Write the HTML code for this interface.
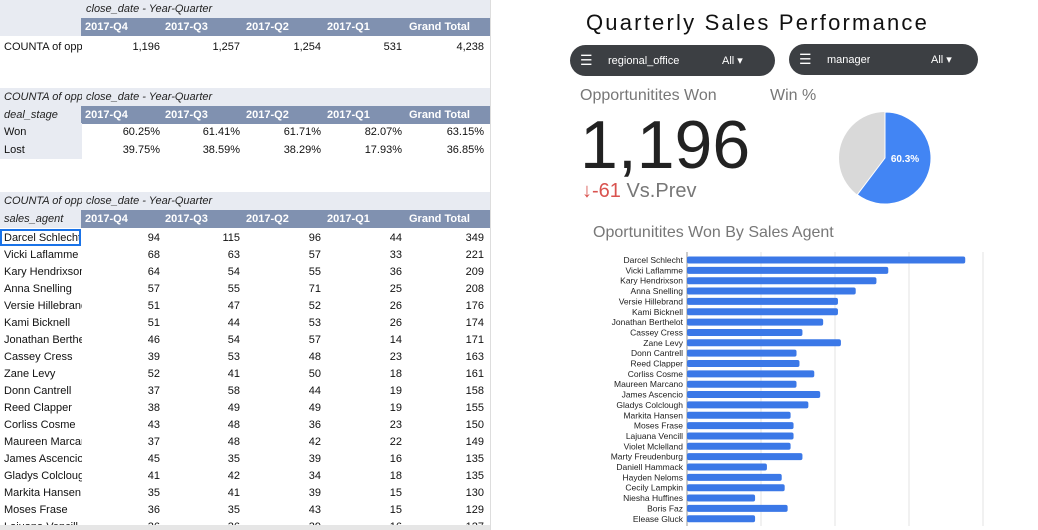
<!DOCTYPE html>
<html><head><meta charset="utf-8">
<style>
body{margin:0;width:1038px;height:530px;overflow:hidden;background:#fff;font-family:"Liberation Sans",Arial,sans-serif;position:relative}
.a{position:absolute;white-space:nowrap;overflow:hidden}
.lb{background:#e8ebf2}
.hd{background:#8091b0;color:#fff;font-weight:bold;font-size:11px}
.c{font-size:11px;color:#111}
.it{font-style:italic;font-size:11px;color:#222}
.pill{position:absolute;background:#3c3f43;border-radius:16px;color:#fff;font-size:11px}
</style></head><body>
<div id="left" class="a" style="left:0;top:0;width:490px;height:530px;overflow:hidden"></div>
<div class="a" style="left:490px;top:0;width:1px;height:530px;background:#ddd"></div>

<div class="a" style="left:586px;top:10px;font-size:22px;color:#111;letter-spacing:2.2px">Quarterly Sales Performance</div>
<div class="pill" style="left:570px;top:45px;width:205px;height:31px">
 <span class="a" style="left:10px;top:8px;font-size:14px;line-height:14px">☰</span>
 <span class="a" style="left:38px;top:10px">regional_office</span>
 <span class="a" style="left:152px;top:9px">All ▾</span>
</div>
<div class="pill" style="left:789px;top:44px;width:189px;height:31px">
 <span class="a" style="left:10px;top:8px;font-size:14px;line-height:14px">☰</span>
 <span class="a" style="left:38px;top:10px">manager</span>
 <span class="a" style="left:142px;top:9px">All ▾</span>
</div>
<div class="a" style="left:580px;top:87px;font-size:16px;color:#777">Opportunitites Won</div>
<div class="a" style="left:770px;top:87px;font-size:16px;color:#777">Win %</div>
<div class="a" style="left:580px;top:106px;font-size:68px;color:#222;line-height:78px">1,196</div>
<div class="a" style="left:582px;top:180px;font-size:20px;color:#d9534f">↓-61 <span style="color:#777">Vs.Prev</span></div>
<svg class="a" style="left:830px;top:98px" width="110" height="110" id="pie"></svg>
<div class="a" style="left:593px;top:224px;font-size:16px;color:#777">Oportunitites Won By Sales Agent</div>
<svg class="a" style="left:580px;top:250px" width="420" height="280" id="bars"></svg>
<div class="a" style="left:0;top:525px;width:490px;height:5px;background:#e6e6e6"></div>

<script>
const quarters=["2017-Q4","2017-Q3","2017-Q2","2017-Q1","Grand Total"];
const countRow=["1,196","1,257","1,254","531","4,238"];
const wonPct=["60.25%","61.41%","61.71%","82.07%","63.15%"];
const lostPct=["39.75%","38.59%","38.29%","17.93%","36.85%"];
const agents=["Darcel Schlecht","Vicki Laflamme","Kary Hendrixson","Anna Snelling","Versie Hillebrand","Kami Bicknell","Jonathan Berthelot","Cassey Cress","Zane Levy","Donn Cantrell","Reed Clapper","Corliss Cosme","Maureen Marcano","James Ascencio","Gladys Colclough","Markita Hansen","Moses Frase","Lajuana Vencill","Violet Mclelland","Marty Freudenburg","Daniell Hammack","Hayden Neloms","Cecily Lampkin","Niesha Huffines","Boris Faz","Elease Gluck"];
const q4=[94,68,64,57,51,51,46,39,52,37,38,43,37,45,41,35,36,36,35,39,27,32,33,23,34,23];
const q3=[115,63,54,55,47,44,54,53,41,58,49,48,48,35,42,41,35,36];
const q2=[96,57,55,71,52,53,57,48,50,44,49,36,42,39,34,39,43,39];
const q1=[44,33,36,25,26,26,14,23,18,19,19,23,22,16,18,15,15,16];
const tot=[349,221,209,208,176,174,171,163,161,158,155,150,149,135,135,130,129,127];
const winPct=60.3;

const L=document.getElementById('left');
const colR=[162,242,323,404,486];
function box(x,y,w,h,cls,txt,align,name){
 const d=document.createElement('div');
 d.className='a '+(cls||'');
 d.style.cssText=`left:${x}px;top:${y}px;width:${w}px;height:${h}px;line-height:${h}px;text-align:${align||'left'};padding:0 4px;box-sizing:border-box`;
 d.textContent=txt||'';
 
 
 L.appendChild(d);return d;
}
function section(y,corner1,corner2,name){
 box(0,y,82,18,'lb it',corner1,'left',name+'-corner');
 box(82,y,408,18,'lb it','close_date - Year-Quarter','left',name+'-dim-label');
 box(0,y+18,82,18,'lb it',corner2,'left',name+'-row-label');
 box(82,y+18,408,18,'hd','','left',name+'-header-band');
 quarters.forEach((q,i)=>{box(colR[i]-81,y+18,81,18,'hd',q,'left',name+'-col-'+i)});
}
section(0,'','','count-table');
box(0,38,82,18,'c','COUNTA of opp','left','count-row-label');
countRow.forEach((v,i)=>box(colR[i]-80,38,82,18,'c',v,'right','count-cell'));
section(88,'COUNTA of opp','deal_stage','stage-table');
box(0,123,82,18,'lb c','Won','left','won-label');
box(0,141,82,18,'lb c','Lost','left','lost-label');
wonPct.forEach((v,i)=>box(colR[i]-80,123,82,18,'c',v,'right','won-cell'));
lostPct.forEach((v,i)=>box(colR[i]-80,141,82,18,'c',v,'right','lost-cell'));
section(192,'COUNTA of opp','sales_agent','agent-table');
for(let r=0;r<q3.length;r++){
 const y=230+r*17;
 box(0,y,82,17,'c',agents[r],'left','agent-name');
 [q4[r],q3[r],q2[r],q1[r],tot[r]].forEach((v,i)=>box(colR[i]-80,y,82,17,'c',String(v),'right','agent-cell'));
}
const sel=document.createElement('div');
sel.className='a';sel.style.cssText='left:0;top:229px;width:81px;height:17px;border:2px solid #1a73e8;box-sizing:border-box';


L.appendChild(sel);

// pie
const NS='http://www.w3.org/2000/svg';
const P=document.getElementById('pie');
const cx=55,cy=60,r=46;
const c0=document.createElementNS(NS,'circle');
c0.setAttribute('cx',cx);c0.setAttribute('cy',cy);c0.setAttribute('r',r);c0.setAttribute('fill','#d9d9d9');


P.appendChild(c0);
const ang=winPct/100*2*Math.PI;
const ex=cx+r*Math.sin(ang),ey=cy-r*Math.cos(ang);
const sl=document.createElementNS(NS,'path');
sl.setAttribute('d',`M${cx},${cy} L${cx},${cy-r} A${r},${r} 0 ${winPct>50?1:0} 1 ${ex},${ey} Z`);
sl.setAttribute('fill','#4285f4');sl.setAttribute('stroke','#fff');sl.setAttribute('stroke-width','1');


P.appendChild(sl);
const pt=document.createElementNS(NS,'text');
pt.setAttribute('x',cx+20);pt.setAttribute('y',cy+4);pt.setAttribute('fill','#fff');pt.setAttribute('font-size','10');pt.setAttribute('font-weight','bold');pt.setAttribute('text-anchor','middle');pt.setAttribute('font-family','Liberation Sans');
pt.textContent=winPct.toFixed(1)+'%';


P.appendChild(pt);

// bars
const B=document.getElementById('bars');
const x0=107,pxPer=2.96,rowH=10.35,top0=10;
const xs=v=>x0+v*pxPer;
[0,25,50,75,100].forEach(t=>{
 const g=document.createElementNS(NS,'line');
 g.setAttribute('x1',xs(t));g.setAttribute('x2',xs(t));g.setAttribute('y1',2);g.setAttribute('y2',276);
 g.setAttribute('stroke',t===0?'#999':'#e3e3e3');g.setAttribute('stroke-width','1');
 
 
 B.appendChild(g);
});
agents.forEach((a,i)=>{
 const cyb=top0+i*rowH;
 const rc=document.createElementNS(NS,'rect');
 rc.setAttribute('x',x0);rc.setAttribute('y',cyb-3.5);rc.setAttribute('width',q4[i]*pxPer);rc.setAttribute('height',7);rc.setAttribute('rx',2);rc.setAttribute('fill','#3b78e7');
 
 
 B.appendChild(rc);
 const t=document.createElementNS(NS,'text');
 t.setAttribute('x',x0-4);t.setAttribute('y',cyb+3);t.setAttribute('text-anchor','end');t.setAttribute('font-size','8.5');t.setAttribute('fill','#222');t.setAttribute('font-family','Liberation Sans');
 t.textContent=a;
 
 
 B.appendChild(t);
});
</script>
</body></html>
